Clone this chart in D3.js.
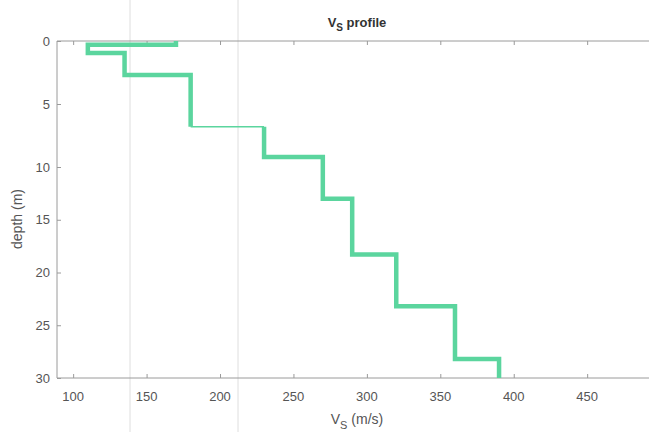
<!DOCTYPE html>
<html>
<head>
<meta charset="utf-8">
<script src="https://cdn.jsdelivr.net/npm/d3@7"></script>
<style>
  body { margin: 0; background: #fff; }
  text { font-family: "Liberation Sans", Arial, sans-serif; }
</style>
</head>
<body>
<div id="chart"></div>
<script>
// layer shear-wave velocities (m/s) and layer bottom depths (m)
var vsValues = [170, 110, 135, 180, 230, 270, 290, 320, 360, 390];
var layerBottoms = [0.3, 0.95, 2.7, 6.8, 9.2, 13, 18.3, 23.2, 28.2, 30];
var xTicks = [100, 150, 200, 250, 300, 350, 400, 450];
var yTicks = [0, 5, 10, 15, 20, 25, 30];

var width = 649, height = 432;

var svg = d3.select("#chart")
    .append("svg")
    .attr("width", width)
    .attr("height", height);

// scales (the scanned page is a bit stretched near the top, hence the 3-point depth scale)
var x = d3.scaleLinear().domain([89, 500]).range([57, 660.6]);
var y = d3.scaleLinear().domain([0, 10, 30]).range([41, 167, 378]);

// faint fold lines from the scanned page
[130, 238].forEach(function(px) {
    svg.append("line")
        .attr("x1", px).attr("x2", px)
        .attr("y1", 0).attr("y2", height)
        .attr("stroke", "#dedede").attr("stroke-width", 1);
});

var axisColor = "#9a9a9a", labelColor = "#555";

// frame lines
svg.append("line").attr("x1", x(89)).attr("x2", width).attr("y1", y(0)).attr("y2", y(0))
    .attr("stroke", axisColor);
svg.append("line").attr("x1", x(89)).attr("x2", width).attr("y1", y(30)).attr("y2", y(30))
    .attr("stroke", axisColor);
svg.append("line").attr("x1", x(89)).attr("x2", x(89)).attr("y1", y(0)).attr("y2", y(30))
    .attr("stroke", axisColor);

// bottom axis, inward ticks
var xAxis = svg.append("g")
    .attr("transform", `translate(0, ${y(30)})`)
    .call(d3.axisTop(x).tickValues(xTicks).tickSize(4).tickFormat(""));
xAxis.select(".domain").remove();
xAxis.selectAll("line").attr("stroke", axisColor);

// top axis, inward ticks
var xTop = svg.append("g")
    .attr("transform", `translate(0, ${y(0)})`)
    .call(d3.axisBottom(x).tickValues(xTicks).tickSize(4).tickFormat(""));
xTop.select(".domain").remove();
xTop.selectAll("line").attr("stroke", axisColor);

svg.append("g").selectAll("text")
    .data(xTicks)
    .join("text")
    .attr("x", d => x(d))
    .attr("y", 401)
    .attr("text-anchor", "middle")
    .style("font-size", "13px")
    .attr("fill", labelColor)
    .text(d => d);

// left axis, inward ticks
var yAxis = svg.append("g")
    .attr("transform", `translate(${x(89)}, 0)`)
    .call(d3.axisRight(y).tickValues(yTicks).tickSize(4).tickFormat(""));
yAxis.select(".domain").remove();
yAxis.selectAll("line").attr("stroke", axisColor);

svg.append("g").selectAll("text")
    .data(yTicks)
    .join("text")
    .attr("x", 50)
    .attr("y", d => y(d))
    .attr("dy", "0.35em")
    .attr("text-anchor", "end")
    .style("font-size", "13px")
    .attr("fill", labelColor)
    .text(d => d);

// step profile: vertical down each layer, then across to the next velocity
var pts = [[vsValues[0], 0]];
vsValues.forEach(function(v, i) {
    pts.push([v, layerBottoms[i]]);
    if (i < vsValues.length - 1) pts.push([vsValues[i + 1], layerBottoms[i]]);
});

var lineColor = "#5bd59e";
var line = d3.line().x(d => x(d[0])).y(d => y(d[1]));
// the 180 -> 230 step prints as a hairline in the reference
var thinStart = 7;

svg.append("path")
    .attr("d", line(pts.slice(0, thinStart + 1)))
    .attr("fill", "none")
    .attr("stroke", lineColor)
    .attr("stroke-width", 4.5)
    .attr("stroke-linejoin", "miter");
svg.append("path")
    .attr("d", line(pts.slice(thinStart, thinStart + 2)))
    .attr("fill", "none")
    .attr("stroke", lineColor)
    .attr("stroke-width", 1.5);
svg.append("path")
    .attr("d", line(pts.slice(thinStart + 1)))
    .attr("fill", "none")
    .attr("stroke", lineColor)
    .attr("stroke-width", 4.5)
    .attr("stroke-linejoin", "miter");

// title
var title = svg.append("text")
    .attr("x", 357).attr("y", 27)
    .attr("text-anchor", "middle")
    .style("font-size", "13px")
    .style("font-weight", "bold")
    .attr("fill", "#333");
title.append("tspan").text("V");
title.append("tspan").attr("dy", 4).style("font-size", "10px").text("S");
title.append("tspan").attr("dy", -4).text(" profile");

// x label
var xlab = svg.append("text")
    .attr("x", 357).attr("y", 424)
    .attr("text-anchor", "middle")
    .style("font-size", "14px")
    .attr("fill", labelColor);
xlab.append("tspan").text("V");
xlab.append("tspan").attr("dy", 5).style("font-size", "11px").text("S");
xlab.append("tspan").attr("dy", -5).text(" (m/s)");

// y label
svg.append("text")
    .attr("transform", "translate(22, 219) rotate(-90)")
    .attr("text-anchor", "middle")
    .style("font-size", "14px")
    .attr("fill", labelColor)
    .text("depth (m)");
</script>
</body>
</html>
